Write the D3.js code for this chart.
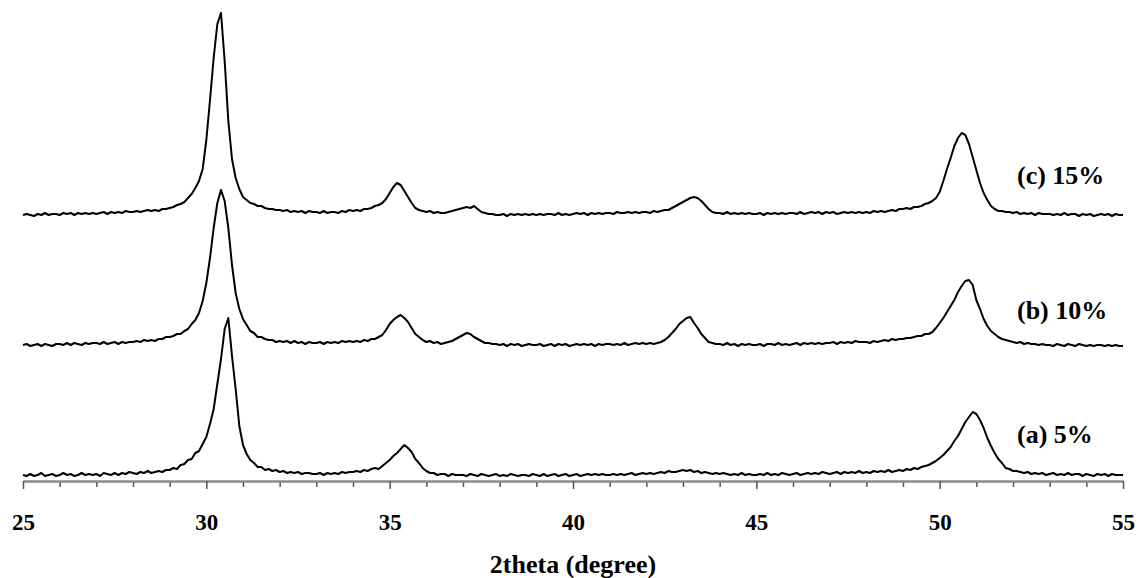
<!DOCTYPE html>
<html>
<head>
<meta charset="utf-8">
<script src="https://cdn.jsdelivr.net/npm/d3@7"></script>
<style>
  html, body { margin: 0; padding: 0; background: #ffffff; }
  svg { display: block; }
  text { font-family: "Liberation Serif", "Times New Roman", serif; font-weight: bold; fill: #000; }
</style>
</head>
<body>
<svg id="chart" width="1138" height="578"></svg>
<script>
// ---- Data (2theta from 25 to 55 in 0.1 degree steps) ----
const thetaStart = 25.0;
const thetaStep = 0.1;

const majorTicks = [25, 30, 35, 40, 45, 50, 55];
const minorTicks = [26, 27, 28, 29, 31, 32, 33, 34, 36, 37, 38, 39, 41, 42, 43, 44, 46, 47, 48, 49, 51, 52, 53, 54];

const seriesNames = ["(a) 5%", "(b) 10%", "(c) 15%"];
const offsets = [0, 130, 260];   // vertical stacking of the patterns (intensity units)

const intensity5 = [
  6,5,7,5,6,8,5,6,7,5,
  6,8,6,7,5,6,8,6,7,6,
  7,5,8,7,6,8,6,8,7,9,
  8,7,9,8,10,8,9,10,9,11,
  11,13,12,16,17,21,22,28,30,37,
  44,57,72,97,122,152,163,125,92,55,
  36,27,21,18,14,14,11,12,10,11,
  9,10,8,9,8,9,7,8,8,7,
  7,8,6,8,7,8,7,9,8,9,
  9,10,9,11,10,12,13,12,15,18,
  21,25,28,32,36,33,29,22,18,13,
  10,8,8,6,7,7,5,7,6,6,
  6,5,7,6,5,7,6,5,6,7,
  5,6,5,7,6,5,6,6,5,7,
  6,5,7,5,6,7,5,6,7,5,
  6,7,5,6,7,6,7,6,7,6,
  6,7,6,7,6,7,8,6,7,8,
  7,8,7,8,9,8,10,9,9,10,
  11,10,11,9,10,8,9,8,7,8,
  7,8,7,6,7,6,8,6,7,6,
  6,7,6,8,6,7,6,8,7,6,
  7,8,6,7,8,7,8,7,9,8,
  7,8,9,7,9,8,9,8,10,8,
  9,8,10,9,10,9,11,9,10,11,
  10,12,11,13,12,14,15,16,18,20,
  23,26,30,34,40,45,52,59,64,69,
  67,61,53,43,35,28,22,18,13,12,
  10,10,9,8,9,7,8,7,8,6,
  7,8,6,7,6,8,6,7,7,5,
  7,6,5,7,6,7,5,7,6,6,
  6
];

const intensity10 = [
  6,7,5,6,7,5,7,6,5,7,
  7,6,8,6,8,7,6,8,7,8,
  8,7,9,7,8,9,7,9,8,9,
  9,10,9,11,10,11,10,12,12,14,
  14,15,17,17,20,22,27,31,38,50,
  68,93,123,148,161,150,123,86,58,42,
  32,26,20,18,14,14,12,11,11,9,
  10,9,10,8,10,8,9,7,9,8,
  8,9,7,9,8,9,8,10,9,10,
  9,10,9,11,10,12,12,14,16,21,
  27,31,34,36,33,29,23,17,14,11,
  9,10,8,9,7,8,9,10,12,14,
  16,18,17,14,12,10,8,8,7,7,
  6,7,5,7,6,7,5,6,7,6,
  6,7,5,6,7,5,7,6,7,5,
  6,7,6,7,6,7,5,7,6,7,
  7,6,7,6,8,6,7,8,7,8,
  7,8,7,8,9,11,14,18,22,27,
  30,33,34,28,23,17,13,9,8,7,
  7,6,8,6,7,5,7,6,7,6,
  6,7,5,7,7,6,8,6,7,6,
  7,8,6,8,7,8,7,8,7,8,
  8,9,7,9,8,9,8,10,9,9,
  9,8,10,9,10,11,10,12,11,12,
  12,13,13,14,15,15,17,17,19,23,
  28,33,39,45,51,59,65,70,71,66,
  51,42,32,25,20,17,14,12,11,10,
  9,8,9,7,8,7,7,6,7,6,
  6,5,7,6,5,7,6,5,7,6,
  5,6,5,6,6,5,6,5,6,5,
  5
];

const intensity15 = [
  6,7,6,5,7,6,8,6,7,7,
  6,8,7,8,6,8,7,8,7,8,
  7,8,9,7,9,8,9,8,10,9,
  9,10,9,10,11,10,11,10,12,12,
  13,14,16,17,19,23,27,33,40,52,
  81,121,163,197,208,160,100,62,43,32,
  24,21,18,17,15,15,13,12,12,11,
  11,10,11,9,10,9,10,8,10,9,
  9,8,10,8,9,9,8,10,9,11,
  10,11,10,12,12,13,15,16,18,22,
  28,34,38,36,30,24,18,13,11,10,
  9,10,8,9,8,8,9,10,11,12,
  13,14,13,15,12,9,8,7,7,6,
  6,7,5,7,6,7,6,7,6,7,
  6,7,6,7,7,6,8,6,7,6,
  7,8,7,8,6,8,7,8,7,8,
  8,7,9,8,8,9,8,9,8,9,
  9,8,10,9,10,11,11,13,15,17,
  19,21,23,24,23,20,16,12,9,8,
  8,7,9,7,8,7,8,7,8,7,
  7,8,6,8,7,8,7,8,7,8,
  8,7,9,7,8,9,8,9,7,9,
  8,9,7,8,9,8,9,8,9,8,
  9,8,10,9,10,9,10,11,10,12,
  12,13,12,14,14,15,17,18,20,23,
  29,40,52,63,75,83,88,86,77,64,
  51,38,28,21,15,12,10,10,9,9,
  8,9,7,8,7,8,6,8,7,7,
  7,6,7,6,8,6,7,7,5,7,
  6,7,5,6,7,6,7,5,7,6,
  6
];

const seriesValues = [intensity5, intensity10, intensity15];

// ---- Chart ----
const svg = d3.select("#chart");
const x = d3.scaleLinear().domain([25, 55]).range([23, 1123]);
const y = d3.scaleLinear().domain([0, 470]).range([481, 11]);

const line = d3.line()
  .x(d => x(d.t))
  .y(d => y(d.v));

seriesValues.forEach((vals, si) => {
  const pts = vals.map((v, i) => ({ t: thetaStart + i * thetaStep, v: v + offsets[si] }));
  svg.append("path")
    .datum(pts)
    .attr("fill", "none")
    .attr("stroke", "#000")
    .attr("stroke-width", 2)
    .attr("stroke-linejoin", "round")
    .attr("d", line);
});

// series labels
const labelBaselines = [443, 319, 184];
seriesNames.forEach((name, si) => {
  svg.append("text")
    .attr("x", 1017)
    .attr("y", labelBaselines[si])
    .attr("font-size", 26)
    .text(name);
});

// axis
const axisG = svg.append("g").attr("transform", "translate(0,481)");
axisG.call(d3.axisBottom(x).tickValues(minorTicks).tickSize(6).tickSizeOuter(0).tickFormat(""));
const majorG = svg.append("g").attr("transform", "translate(0,481)");
majorG.call(d3.axisBottom(x).tickValues(majorTicks).tickSize(8).tickSizeOuter(0).tickFormat(d3.format("d")));
[axisG, majorG].forEach(g => {
  g.select(".domain").attr("stroke", "#8a8a8a").attr("stroke-width", 2);
  g.selectAll(".tick line").attr("stroke", "#555").attr("stroke-width", 1.5);
});
majorG.selectAll(".tick text")
  .attr("y", 49).attr("dy", null)
  .attr("font-size", 23)
  .attr("font-weight", "bold")
  .attr("fill", "#000");

svg.append("text")
  .attr("x", x(40))
  .attr("y", 573)
  .attr("text-anchor", "middle")
  .attr("font-size", 26)
  .text("2theta (degree)");
</script>
</body>
</html>
